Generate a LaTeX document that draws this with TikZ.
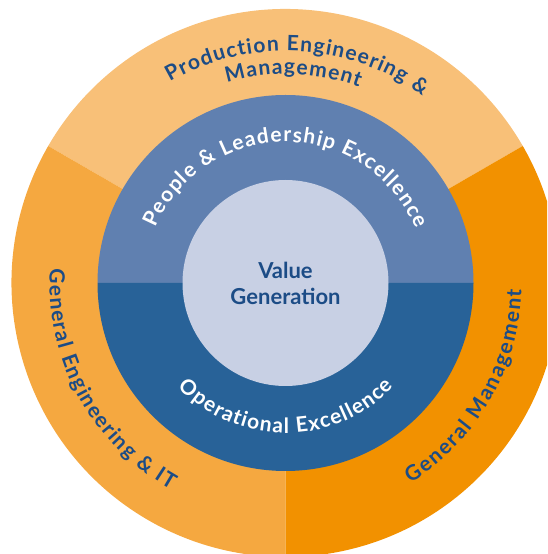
\documentclass[tikz,border=0pt]{standalone}
\usepackage{fontspec}
\setmainfont{Lato}
\usetikzlibrary{decorations.text}

\definecolor{sectorTop}{HTML}{F8C078}
\definecolor{sectorLeft}{HTML}{F5A840}
\definecolor{sectorRight}{HTML}{F29100}
\definecolor{ringUpper}{HTML}{6080B0}
\definecolor{ringLower}{HTML}{286298}
\definecolor{coreFill}{HTML}{C8D0E4}
\definecolor{ink}{HTML}{1C4C86}

\newcommand\ringfont{\fontsize{21}{24}\selectfont\bfseries}

\begin{document}
\begin{tikzpicture}[x=1pt,y=1pt,
  % #1 colour, #2 text, #3 extra space before each letter
  ringtext/.style n args={3}{decorate,
    decoration={text along path, text align=center, text color=#1,
      text={|\ringfont\kern#3|#2}}}]

  % canvas: the outer ring runs past the right and bottom edges
  \path[use as bounding box, clip] (0,0) rectangle (547,554);
  \coordinate (C) at (285.5,271);

  % outer ring: three 120-degree sectors
  \fill[sectorTop]   (C) -- ([shift={(30:274)}]C)  arc[start angle=30,  end angle=150, radius=274] -- cycle;
  \fill[sectorLeft]  (C) -- ([shift={(150:274)}]C) arc[start angle=150, end angle=270, radius=274] -- cycle;
  \fill[sectorRight] (C) -- ([shift={(270:274)}]C) arc[start angle=270, end angle=390, radius=274] -- cycle;

  % middle ring: upper and lower halves
  \fill[ringUpper] ([shift={(0:188)}]C)   arc[start angle=0,   end angle=180, radius=188] -- cycle;
  \fill[ringLower] ([shift={(180:188)}]C) arc[start angle=180, end angle=360, radius=188] -- cycle;

  % core
  \fill[coreFill] (C) circle[radius=103];
  \node[text=ink, align=center, font=\fontsize{22}{26}\selectfont\bfseries] (core) at (C) {Value\\Generation};

  % labels of the middle ring
  \path[ringtext={white}{People {\&} Leadership Excellence}{1.2pt}]
    ([shift={(170:141)}]C) arc[start angle=170, end angle=10, radius=141];
  \path[ringtext={white}{Operational Excellence}{1.2pt}]
    ([shift={(190:150)}]C) arc[start angle=190, end angle=350, radius=150];

  % labels of the outer ring
  \path[ringtext={ink}{Production Engineering {\&}}{1.2pt}]
    ([shift={(177:232)}]C) arc[start angle=177, end angle=-3, radius=232];
  \path[ringtext={ink}{Management}{1.2pt}]
    ([shift={(178:209)}]C) arc[start angle=178, end angle=-2, radius=209];
  \path[ringtext={ink}{General Engineering {\&} IT}{1.4pt}]
    ([shift={(118.6:236)}]C) arc[start angle=118.6, end angle=298.6, radius=236];
  \path[ringtext={ink}{General Management}{1.8pt}]
    ([shift={(240:236)}]C) arc[start angle=240, end angle=420, radius=236];
\end{tikzpicture}
\end{document}
